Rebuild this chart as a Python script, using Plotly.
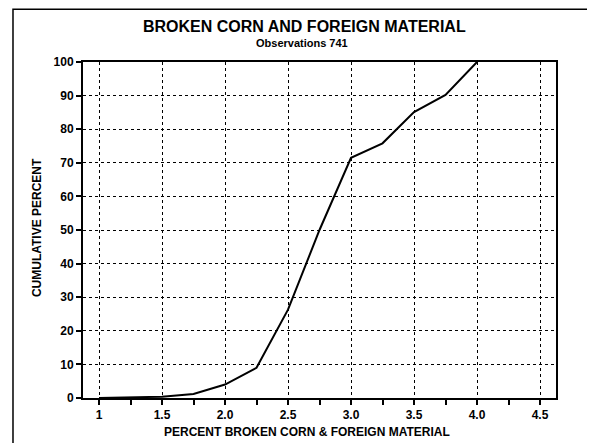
import plotly.graph_objects as go

# cumulative distribution
pct_broken = [1.0, 1.25, 1.5, 1.75, 2.0, 2.25, 2.5, 2.75, 3.0, 3.25, 3.5, 3.75, 4.0]
cum_pct = [0, 0.1, 0.4, 1.2, 4.0, 9.0, 26.3, 50, 71.5, 75.8, 85.1, 90.2, 100]

x_ticks = [1, 1.5, 2.0, 2.5, 3.0, 3.5, 4.0, 4.5]
x_tick_text = ["1", "1.5", "2.0", "2.5", "3.0", "3.5", "4.0", "4.5"]
y_ticks = [0, 10, 20, 30, 40, 50, 60, 70, 80, 90, 100]

FONT = "Liberation Sans"
bold = dict(family=FONT, size=12, color="black", weight=700)

fig = go.Figure()
fig.add_trace(go.Scatter(x=pct_broken, y=cum_pct, mode="lines",
                         line=dict(color="black", width=2), showlegend=False))

fig.update_xaxes(range=[0.873, 4.627], tickvals=x_ticks, ticktext=x_tick_text,
                 showline=True, linecolor="black", linewidth=2, mirror=True,
                 ticks="outside", ticklen=5, tickcolor="black", tickwidth=1.5,
                 showgrid=True, gridcolor="black", gridwidth=1, griddash="dot",
                 zeroline=False, tickfont=bold,
                 minor=dict(dtick=0.25, tick0=1, ticks="outside", ticklen=5,
                            tickcolor="black", tickwidth=1.5, showgrid=False))
fig.update_yaxes(range=[0, 100], tickvals=y_ticks,
                 showline=True, linecolor="black", linewidth=2, mirror=True,
                 ticks="outside", ticklen=5, tickcolor="black", tickwidth=1.5,
                 showgrid=True, gridcolor="black", gridwidth=1, griddash="dot",
                 zeroline=False, tickfont=bold)

ann = [
    dict(text="BROKEN CORN AND FOREIGN MATERIAL", x=0.469, y=1.107,
         font=dict(family=FONT, size=16, color="black", weight=700)),
    dict(text="Observations 741", x=0.463, y=1.058,
         font=dict(family=FONT, size=11, color="black", weight=700)),
    dict(text="PERCENT BROKEN CORN & FOREIGN MATERIAL", x=0.474, y=-0.101, font=bold),
    dict(text="CUMULATIVE PERCENT", x=-0.097, y=0.506, textangle=-90, font=bold),
]
for a in ann:
    fig.add_annotation(xref="paper", yref="paper", showarrow=False,
                       xanchor="center", yanchor="middle", **a)

# outer frame of the page
fig.add_shape(type="rect", xref="paper", yref="paper", x0=-0.148, y0=-0.2,
              x1=1.2, y1=1.157, line=dict(color="black", width=1.5))

# page body adds an 8px margin, so the figure is 8px smaller and shifted
fig.update_layout(width=587, height=435, plot_bgcolor="white", paper_bgcolor="white",
                  margin=dict(l=75, r=39, t=54, b=45))

fig.write_html("out.html")
